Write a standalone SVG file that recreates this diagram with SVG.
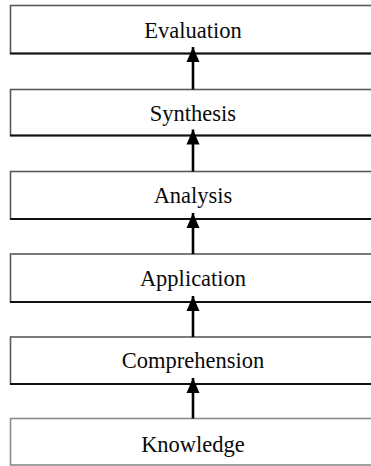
<svg xmlns="http://www.w3.org/2000/svg" width="371" height="466" viewBox="0 0 371 466">
  <defs>
    <style>
      .box { fill: #ffffff; stroke: #5a5a5a; stroke-width: 1.6; }
      .base { stroke: #111111; stroke-width: 2; }
      .label { font-family: "Liberation Serif", "Times New Roman", serif; font-size: 22.5px; fill: #0a0a0a; text-anchor: middle; }
      .conn { stroke: #000000; stroke-width: 2.6; fill: none; marker-end: url(#head); }
    </style>
    <marker id="head" markerUnits="userSpaceOnUse" markerWidth="16" markerHeight="14" refX="15" refY="7" orient="auto">
      <path d="M0,0.5 L15,7 L0,13.5 Z" fill="#000000"/>
    </marker>
  </defs>
  <rect width="371" height="466" fill="#ffffff"/>

  <g id="evaluation">
    <rect class="box" x="10.5" y="5.5" width="380" height="48"/>
    <line class="base" x1="10" y1="53.5" x2="371" y2="53.5"/>
    <text class="label" x="193" y="37.5">Evaluation</text>
  </g>
  <g id="synthesis">
    <rect class="box" x="10.5" y="89.5" width="380" height="46"/>
    <line class="base" x1="10" y1="135.5" x2="371" y2="135.5"/>
    <text class="label" x="193" y="120.5">Synthesis</text>
  </g>
  <g id="analysis">
    <rect class="box" x="10.5" y="171.5" width="380" height="47.5"/>
    <line class="base" x1="10" y1="219" x2="371" y2="219"/>
    <text class="label" x="193" y="203">Analysis</text>
  </g>
  <g id="application">
    <rect class="box" x="10.5" y="254" width="380" height="48"/>
    <line class="base" x1="10" y1="302" x2="371" y2="302"/>
    <text class="label" x="193" y="286">Application</text>
  </g>
  <g id="comprehension">
    <rect class="box" x="10.5" y="337" width="380" height="47"/>
    <line class="base" x1="10" y1="384" x2="371" y2="384"/>
    <text class="label" x="193" y="368">Comprehension</text>
  </g>
  <g id="knowledge">
    <rect class="box" x="10.5" y="418.5" width="380" height="46.5" style="stroke:#8a8a8a"/>
    <text class="label" x="193" y="451.5">Knowledge</text>
  </g>

  <g id="connectors">
    <line class="conn" x1="193" y1="89.5" x2="193" y2="47"/>
    <line class="conn" x1="193" y1="171.5" x2="193" y2="129.5"/>
    <line class="conn" x1="193" y1="254" x2="193" y2="213"/>
    <line class="conn" x1="193" y1="337" x2="193" y2="296"/>
    <line class="conn" x1="193" y1="418.5" x2="193" y2="378"/>
  </g>
</svg>
